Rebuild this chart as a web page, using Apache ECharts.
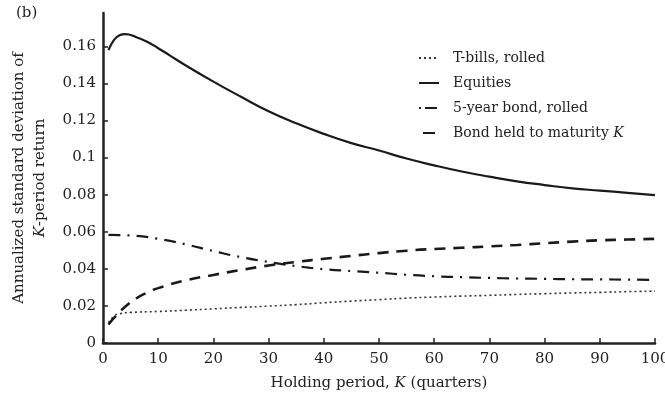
<!DOCTYPE html>
<html><head><meta charset="utf-8">
<script src="https://cdn.jsdelivr.net/npm/echarts@6/dist/echarts.min.js"></script>
<style>html,body{margin:0;padding:0;background:#fff}#c{width:665px;height:406px}</style>
</head><body><div id="c"></div>
<script>
// ---- data ----
const xTicks = [0, 10, 20, 30, 40, 50, 60, 70, 80, 90, 100];
const yTicks = [0, 0.02, 0.04, 0.06, 0.08, 0.1, 0.12, 0.14, 0.16];

const tbillK   = [1, 2, 3, 5, 10, 15, 20, 25, 30, 35, 40, 45, 50, 55, 60, 65, 70, 75, 80, 85, 90, 95, 100];
const tbillVal = [0.0110, 0.0145, 0.0158, 0.0165, 0.0170, 0.0177, 0.0184, 0.0192, 0.0199, 0.0207, 0.0217, 0.0226, 0.0234, 0.0242, 0.0248, 0.0253, 0.0257, 0.0262, 0.0266, 0.0270, 0.0273, 0.0277, 0.0280];

const equityK   = [1, 2, 3, 4, 6, 8, 10, 12, 15, 20, 25, 30, 35, 40, 45, 50, 55, 60, 65, 70, 75, 80, 85, 90, 95, 100];
const equityVal = [0.1580, 0.1635, 0.1660, 0.1666, 0.1650, 0.1625, 0.1590, 0.1553, 0.1497, 0.1410, 0.1328, 0.1250, 0.1185, 0.1128, 0.1078, 0.1038, 0.0995, 0.0958, 0.0925, 0.0897, 0.0872, 0.0852, 0.0834, 0.0822, 0.0810, 0.0798];

const bond5K   = [1, 5, 10, 15, 20, 25, 30, 35, 40, 45, 50, 55, 60, 65, 70, 75, 80, 85, 90, 95, 100];
const bond5Val = [0.0583, 0.0580, 0.0562, 0.0532, 0.0496, 0.0463, 0.0437, 0.0415, 0.0398, 0.0388, 0.0379, 0.0368, 0.0360, 0.0355, 0.0351, 0.0348, 0.0346, 0.0344, 0.0343, 0.0342, 0.0340];

const bondKK   = [1, 2, 4, 6, 8, 10, 15, 20, 25, 30, 35, 40, 45, 50, 55, 60, 65, 70, 75, 80, 85, 90, 95, 100];
const bondKVal = [0.0100, 0.0135, 0.0195, 0.0240, 0.0272, 0.0296, 0.0338, 0.0367, 0.0394, 0.0418, 0.0437, 0.0454, 0.0470, 0.0485, 0.0498, 0.0507, 0.0514, 0.0521, 0.0529, 0.0538, 0.0547, 0.0554, 0.0558, 0.0562];

const seriesNames = ['T-bills, rolled', 'Equities', '5-year bond, rolled', 'Bond held to maturity {i|K}'];

// ---- chart ----
const FONT = 'DejaVu Serif';
const INK = '#222';
const zip = (a, b) => a.map((v, i) => [v, b[i]]);

const chart = echarts.init(document.getElementById('c'), null, {renderer: 'canvas'});
chart.setOption({
  animation: false,
  backgroundColor: '#fff',
  textStyle: {fontFamily: FONT, color: INK},
  graphic: [{type: 'text', left: 16, top: 6, style: {text: '(b)', font: '15px "DejaVu Serif"', fill: INK}}],
  grid: {left: 103, right: 10, top: 13, bottom: 63, containLabel: false, outerBoundsMode: 'none'},
  legend: {
    orient: 'vertical', left: 413, top: 45,
    itemWidth: 20, itemHeight: 14, itemGap: 9,
    itemStyle: {color: 'rgba(0,0,0,0)', borderColor: 'rgba(0,0,0,0)', borderWidth: 0},
    textStyle: {fontFamily: FONT, fontSize: 14, color: INK, lineHeight: 16, padding: [0, 0, 0, 9],
      rich: {i: {fontFamily: FONT, fontSize: 14, fontStyle: 'italic', color: INK}}},
    data: [
      {name: seriesNames[0]},
      {name: seriesNames[1]},
      {name: seriesNames[2], lineStyle: {type: [2, 4, 12, 20]}},
      {name: seriesNames[3], lineStyle: {type: [0.01, 4, 12, 20]}}
    ]
  },
  xAxis: {
    type: 'value', min: 0, max: 100, interval: 10,
    name: 'Holding period, {i|K} (quarters)', nameLocation: 'middle', nameGap: 33,
    nameTextStyle: {fontFamily: FONT, fontSize: 15, color: INK,
      rich: {i: {fontFamily: FONT, fontSize: 15, fontStyle: 'italic', color: INK}}},
    axisLine: {lineStyle: {color: INK, width: 2.5}},
    axisTick: {inside: true, length: 5, lineStyle: {color: INK, width: 1.5}},
    axisLabel: {margin: 9, fontFamily: FONT, fontSize: 15, color: INK,
      customValues: xTicks},
    splitLine: {show: false}
  },
  yAxis: {
    type: 'value', min: 0, max: 0.178,
    name: '{n|Annualized standard deviation of}\n{i|K}{n|-period return}',
    nameLocation: 'middle', nameGap: 52,
    nameTextStyle: {fontFamily: FONT, fontSize: 15, color: INK, lineHeight: 21,
      rich: {n: {fontFamily: FONT, fontSize: 15, color: INK, lineHeight: 21},
             i: {fontFamily: FONT, fontSize: 15, fontStyle: 'italic', color: INK, lineHeight: 21}}},
    axisLine: {show: true, lineStyle: {color: INK, width: 2.5}},
    axisTick: {show: true, inside: true, length: 5, lineStyle: {color: INK, width: 1.5}, customValues: yTicks},
    axisLabel: {margin: 7, fontFamily: FONT, fontSize: 15, color: INK, customValues: yTicks},
    splitLine: {show: false}
  },
  series: [
    {name: seriesNames[0], type: 'line', smooth: true, symbol: 'none', data: zip(tbillK, tbillVal),
      lineStyle: {color: '#333', width: 1.6, type: [2, 3]}, itemStyle: {color: '#333'}},
    {name: seriesNames[1], type: 'line', smooth: true, symbol: 'none', data: zip(equityK, equityVal),
      lineStyle: {color: '#1a1a1a', width: 2.2, type: 'solid'}, itemStyle: {color: '#1a1a1a'}},
    {name: seriesNames[2], type: 'line', smooth: true, symbol: 'none', data: zip(bond5K, bond5Val),
      lineStyle: {color: '#1a1a1a', width: 2.2, type: [12, 7, 2, 7]}, itemStyle: {color: '#1a1a1a'}},
    {name: seriesNames[3], type: 'line', smooth: true, symbol: 'none', data: zip(bondKK, bondKVal),
      lineStyle: {color: '#1a1a1a', width: 2.6, type: [11, 8]}, itemStyle: {color: '#1a1a1a'}}
  ]
});
</script></body></html>
